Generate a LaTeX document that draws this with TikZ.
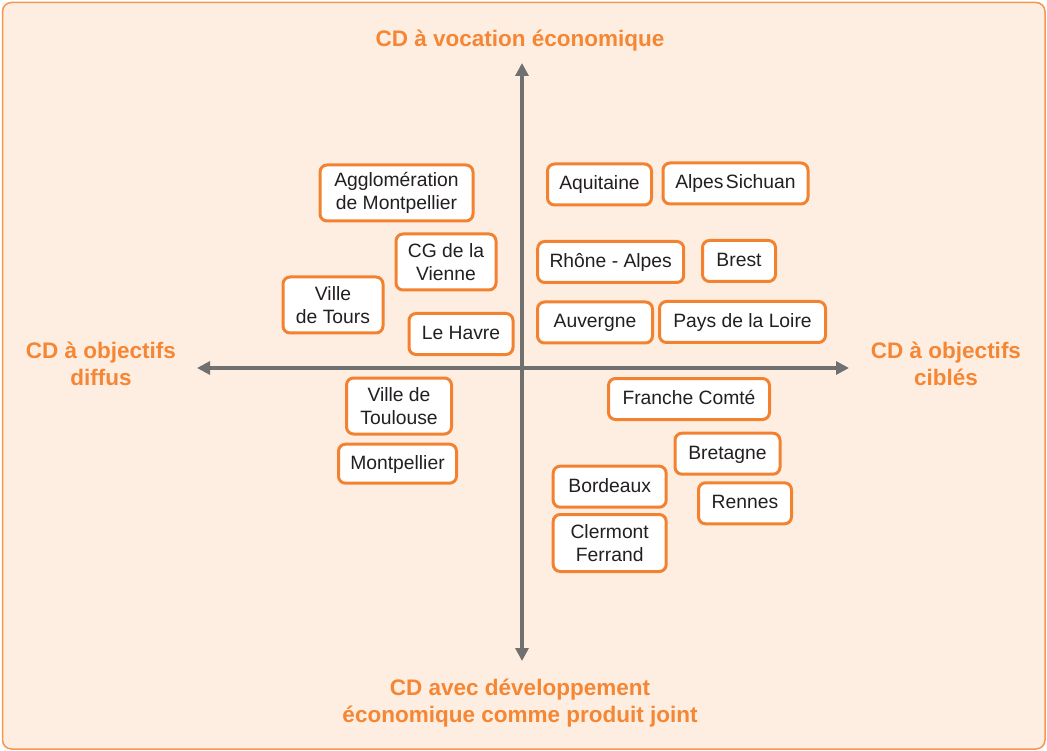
\documentclass[tikz,border=0pt]{standalone}
\usepackage{fontspec}
\setmainfont{Liberation Sans}
\usetikzlibrary{arrows.meta}
\definecolor{bgpeach}{RGB}{254,238,226}
\definecolor{framecol}{RGB}{247,150,80}
\definecolor{boxorange}{RGB}{242,130,48}
\definecolor{labelorange}{RGB}{245,134,52}
\definecolor{axisgray}{RGB}{112,112,112}
\definecolor{txtdark}{RGB}{35,31,32}
\tikzset{
  every node/.style={inner sep=0pt, outer sep=0pt},
  place/.style={draw=boxorange, fill=white, line width=3pt, rounded corners=7pt,
    text=txtdark, font=\fontsize{19.3}{22.5}\selectfont, align=center, inner xsep=4pt},
  oneline/.style={place, minimum height=41pt, text height=14pt, text depth=3pt},
  twoline/.style={place, minimum height=56pt},
  axislabel/.style={text=labelorange, font=\bfseries\fontsize{22.5}{27.5}\selectfont, align=center},
  axis/.style={draw=axisgray, line width=4.5pt, {Triangle[length=13pt,width=13pt]}-{Triangle[length=13pt,width=13pt]}}
}
\begin{document}
\begin{tikzpicture}[x=1pt,y=-1pt]
\useasboundingbox (0,0) rectangle (1047,751);
\draw[draw=framecol, fill=bgpeach, line width=1.5pt, rounded corners=9pt] (2.5,2.5) rectangle (1045,749);

% axes
\coordinate (N) at (522,63);
\coordinate (S) at (522,661);
\coordinate (W) at (197,368);
\coordinate (E) at (849,368);
\draw[axis] (S) -- (N);
\draw[axis] (W) -- (E);

% axis labels
\node[axislabel] (ltop) at (520,41) {CD à vocation économique};
\node[axislabel] (lleft) at (101,364) {CD à objectifs\\diffus};
\node[axislabel] (lright) at (946,364) {CD à objectifs\\ciblés};
\node[axislabel] (lbottom) at (520,703) {CD avec développement\\économique comme produit joint};

% boxes
\node[twoline, minimum width=153pt] (agglo) at (396.5,193) {Agglomération\\de Montpellier};
\node[twoline, minimum width=100pt] (cg) at (446,262) {CG de la\\Vienne};
\node[twoline, minimum width=100pt] (tours) at (333,305) {Ville\\de Tours};
\node[oneline, minimum width=104pt] (havre) at (461,334) {Le Havre};
\node[oneline, minimum width=104pt] (aquitaine) at (599.5,184.5) {Aquitaine};
\node[oneline, minimum width=145pt] (sichuan) at (735.5,183.5) {Alpes\hspace{0.12em}Sichuan};
\node[oneline, minimum width=146pt] (rhone) at (610.7,262) {Rhône - Alpes};
\node[oneline, minimum width=73pt] (brest) at (739,261) {Brest};
\node[oneline, minimum width=115pt] (auvergne) at (595,322.5) {Auvergne};
\node[oneline, minimum width=166pt] (pays) at (742.5,322) {Pays de la Loire};
\node[twoline, minimum width=105pt] (toulouse) at (399,406) {Ville de\\Toulouse};
\node[oneline, minimum width=118pt, minimum height=39pt] (montp) at (397.5,463.7) {Montpellier};
\node[oneline, minimum width=161pt] (franche) at (689,399) {Franche Comté};
\node[oneline, minimum width=105pt] (bretagne) at (727.5,453.7) {Bretagne};
\node[oneline, minimum width=113pt] (bordeaux) at (609.7,486.7) {Bordeaux};
\node[oneline, minimum width=93pt] (rennes) at (745,503.3) {Rennes};
\node[twoline, minimum width=113pt, minimum height=57pt] (clermont) at (609.7,543) {Clermont\\Ferrand};
\end{tikzpicture}
\end{document}
